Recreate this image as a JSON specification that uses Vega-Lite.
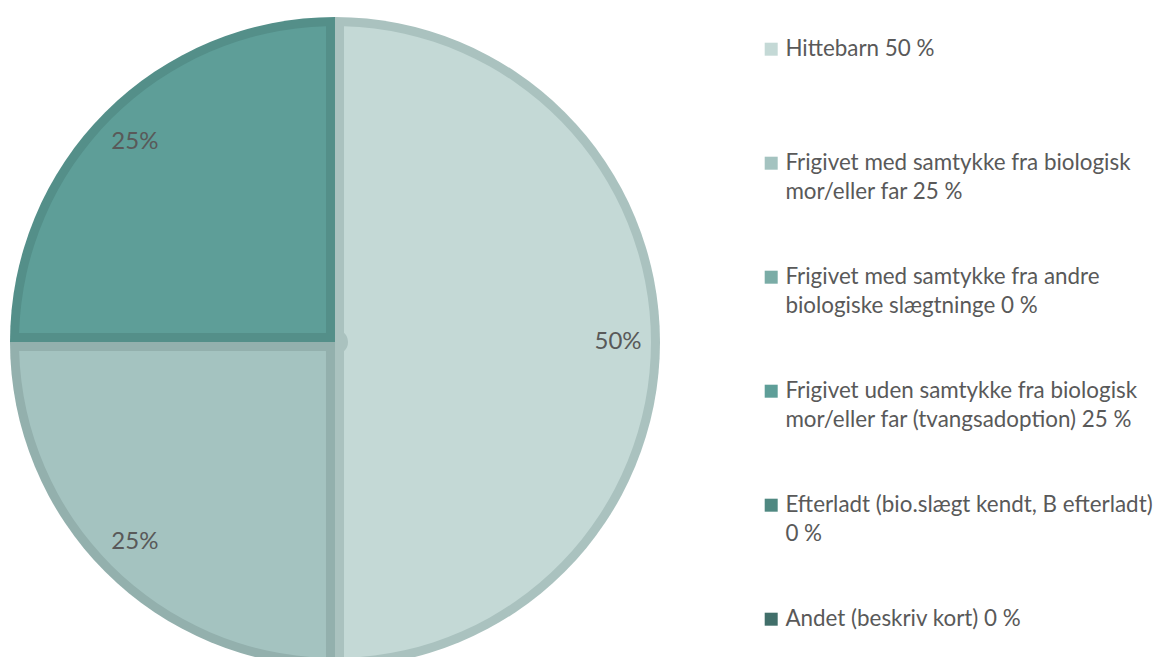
{
  "$schema": "https://vega.github.io/schema/vega-lite/v6.json",
  "width": 670,
  "height": 630,
  "autosize": {"type": "none"},
  "padding": {"left": 0, "top": 27, "right": 490, "bottom": 0},
  "background": "white",
  "data": {
    "values": [
      {"idx": 1, "kategori": "Hittebarn 50 %", "andel": 50, "etiket": "50%"},
      {"idx": 2, "kategori": "Frigivet med samtykke fra biologisk mor/eller far 25 %", "andel": 25, "etiket": "25%"},
      {"idx": 3, "kategori": "Frigivet med samtykke fra andre biologiske slægtninge 0 %", "andel": 0, "etiket": "0%"},
      {"idx": 4, "kategori": "Frigivet uden samtykke fra biologisk mor/eller far (tvangsadoption) 25 %", "andel": 25, "etiket": "25%"},
      {"idx": 5, "kategori": "Efterladt (bio.slægt kendt, B efterladt) 0 %", "andel": 0, "etiket": "0%"},
      {"idx": 6, "kategori": "Andet (beskriv kort) 0 %", "andel": 0, "etiket": "0%"}
    ]
  },
  "encoding": {
    "theta": {"field": "andel", "type": "quantitative", "stack": true},
    "order": {"field": "idx", "type": "quantitative"}
  },
  "resolve": {"scale": {"fill": "independent", "color": "independent"}, "legend": {"fill": "independent", "color": "independent"}},
  "layer": [
    {
      "mark": {"type": "arc", "radius": 325},
      "encoding": {
        "fill": {
          "field": "kategori", "type": "nominal", "legend": null,
          "sort": {"field": "idx"},
          "scale": {"range": ["#aac2bf", "#93b0ad", "#6a9a95", "#548f89", "#457870", "#36605b"]}
        }
      }
    },
    {
      "mark": {"type": "arc", "radius": 316, "radius2": 13, "padAngle": 0.057},
      "encoding": {
        "color": {
          "field": "kategori", "type": "nominal",
          "sort": {"field": "idx"},
          "scale": {"range": ["#c4d9d6", "#a4c3c0", "#7aaca6", "#5e9e98", "#4f8881", "#416f6a"]},
          "legend": {
            "title": null,
            "orient": "none",
            "legendX": 760,
            "legendY": 11,
            "direction": "vertical",
            "padding": 0,
            "symbolType": "square",
            "symbolSize": 169,
            "symbolStrokeWidth": 0,
            "labelFont": "Lato",
            "labelFontSize": 22.4,
            "labelColor": "#595959",
            "labelOffset": 3,
            "labelLimit": 500,
            "labelBaseline": "middle",
            "rowPadding": 62,
            "labelExpr": "datum.label == 'Hittebarn 50 %' ? ['Hittebarn 50 %', ''] : datum.label == 'Frigivet med samtykke fra biologisk mor/eller far 25 %' ? ['Frigivet med samtykke fra biologisk', 'mor/eller far 25 %'] : datum.label == 'Frigivet med samtykke fra andre biologiske slægtninge 0 %' ? ['Frigivet med samtykke fra andre', 'biologiske slægtninge 0 %'] : datum.label == 'Frigivet uden samtykke fra biologisk mor/eller far (tvangsadoption) 25 %' ? ['Frigivet uden samtykke fra biologisk', 'mor/eller far (tvangsadoption) 25 %'] : datum.label == 'Efterladt (bio.slægt kendt, B efterladt) 0 %' ? ['Efterladt (bio.slægt kendt, B efterladt)', '0 %'] : ['Andet (beskriv kort) 0 %', '']",
            "encode": {"labels": {"update": {"lineHeight": {"value": 29}}}}
          }
        }
      }
    },
    {
      "transform": [{"filter": "datum.andel > 0"}],
      "mark": {"type": "text", "radius": 283, "font": "Lato", "fontSize": 24, "color": "#595959"},
      "encoding": {"text": {"field": "etiket", "type": "nominal"}}
    }
  ]
}
